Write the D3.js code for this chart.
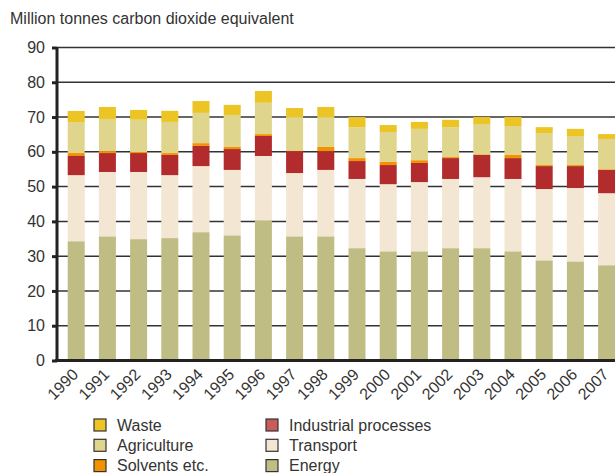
<!doctype html>
<html lang="en">
  <head>
    <meta charset="utf-8">
    <title>Emissions by sector</title>
    <script src="https://d3js.org/d3.v7.min.js"></script>
    <style>
      body { margin: 0; background: #fff; }
      text { font-family: "Liberation Sans", Arial, sans-serif; fill: #333; }
    </style>
  </head>
  <body>
    <div id="chart"></div>
    <script>
      // data, million tonnes CO2 equivalent
      var years = ["1990","1991","1992","1993","1994","1995","1996","1997","1998",
                   "1999","2000","2001","2002","2003","2004","2005","2006","2007"];
      var energy      = [34.3,35.7,34.9,35.2,36.9,36.0,40.3,35.7,35.7,32.3,31.4,31.4,32.3,32.3,31.4,28.8,28.5,27.4];
      var transport   = [19.0,18.5,19.3,18.1,19.0,18.8,18.5,18.2,19.1,19.9,19.3,19.9,19.9,20.4,20.8,20.5,21.1,20.7];
      var industrial  = [5.5,5.45,5.45,5.8,5.8,6.0,5.75,6.3,5.4,5.15,5.5,5.5,6.0,6.4,6.0,6.6,6.3,6.7];
      var solvents    = [0.85,0.55,0.3,0.55,0.8,0.6,0.55,0.2,1.2,0.85,0.9,0.8,0.3,0.2,0.9,0.3,0.3,0.2];
      var agriculture = [8.9,9.25,9.3,8.95,8.7,9.2,9.0,9.6,8.6,8.9,8.6,9.0,8.6,8.7,8.3,9.2,8.35,8.7];
      var waste       = [3.2,3.45,2.8,3.2,3.4,2.9,3.4,2.6,2.9,2.9,2.0,2.0,2.1,2.0,2.6,1.7,2.05,1.4];
      var yTicks = [0,10,20,30,40,50,60,70,80,90];

      var series = [
        {key: "energy", name: "Energy", values: energy, color: "#bfbd83"},
        {key: "transport", name: "Transport", values: transport, color: "#f3e6d2"},
        {key: "industrial", name: "Industrial processes", values: industrial, color: "#b22b2d", swatch: "#c95b5b"},
        {key: "solvents", name: "Solvents etc.", values: solvents, color: "#f39200"},
        {key: "agriculture", name: "Agriculture", values: agriculture, color: "#dfd58d"},
        {key: "waste", name: "Waste", values: waste, color: "#ecc423"}
      ];

      var width = 615, height = 473;
      var svg = d3.select("#chart").append("svg")
          .attr("width", width)
          .attr("height", height);

      // one row per year for d3.stack
      var table = years.map(function(y, i) {
        var row = {year: y};
        series.forEach(function(s) { row[s.key] = s.values[i]; });
        return row;
      });
      var stacked = d3.stack().keys(series.map(function(s) { return s.key; }))(table);

      var y = d3.scaleLinear().domain([0, 90]).range([360.5, 47.5]);
      var x = d3.scaleBand()
          .domain(years)
          .range([57, 625.8])
          .paddingInner(0.455)
          .paddingOuter(0.343);

      // title
      svg.append("text")
          .attr("x", 10)
          .attr("y", 24)
          .style("font-size", "16px")
          .text("Million tonnes carbon dioxide equivalent");

      // gridlines
      svg.append("g").selectAll("line")
        .data(yTicks.filter(function(d) { return d > 0; }))
        .enter().append("line")
          .attr("x1", 57).attr("x2", width)
          .attr("y1", function(d) { return y(d); })
          .attr("y2", function(d) { return y(d); })
          .attr("stroke", "#333")
          .attr("stroke-width", 1.5);

      // bars
      svg.append("g").selectAll("g")
        .data(stacked)
        .enter().append("g")
          .attr("fill", function(d, i) { return series[i].color; })
        .selectAll("rect")
        .data(function(d) { return d; })
        .enter().append("rect")
          .attr("x", function(d) { return x(d.data.year); })
          .attr("width", x.bandwidth())
          .attr("y", function(d) { return y(d[1]); })
          .attr("height", function(d) { return y(d[0]) - y(d[1]); });

      // y axis
      var yAxis = svg.append("g")
          .attr("transform", "translate(57,0)")
          .call(d3.axisLeft(y).tickValues(yTicks).tickSize(5).tickPadding(7));
      yAxis.select(".domain").attr("stroke", "#222").attr("stroke-width", 3)
          .attr("d", "M0,47V362");
      yAxis.selectAll(".tick line").attr("stroke", "#222").attr("stroke-width", 3);
      yAxis.selectAll("text")
          .style("font-size", "16px")
          .style("font-family", "'Liberation Sans', Arial, sans-serif")
          .attr("fill", "#333");

      // x axis
      var xAxis = svg.append("g")
          .attr("transform", "translate(0,360.5)")
          .call(d3.axisBottom(x).tickSize(0).tickPadding(0));
      xAxis.select(".domain").attr("stroke", "#222").attr("stroke-width", 3)
          .attr("d", "M55,0H" + width);
      xAxis.selectAll("text")
          .style("font-size", "16px")
          .style("font-family", "'Liberation Sans', Arial, sans-serif")
          .attr("fill", "#333")
          .attr("text-anchor", "end")
          .attr("dy", "0")
          .attr("transform", "translate(3,15) rotate(-45)");

      // legend
      var legendCols = [["waste", "agriculture", "solvents"], ["industrial", "transport", "energy"]];
      var legend = svg.append("g");
      legendCols.forEach(function(col, c) {
        col.forEach(function(key, r) {
          var s = series.find(function(d) { return d.key === key; });
          var g = legend.append("g")
              .attr("transform", "translate(" + (94 + c * 172) + "," + (419 + r * 20.3) + ")");
          g.append("rect")
              .attr("width", 12).attr("height", 12)
              .attr("fill", s.swatch || s.color)
              .attr("stroke", "#333")
              .attr("stroke-width", 1.2);
          g.append("text")
              .attr("x", 23)
              .attr("y", 11.5)
              .style("font-size", "16px")
              .text(s.name);
        });
      });
    </script>
  </body>
</html>
